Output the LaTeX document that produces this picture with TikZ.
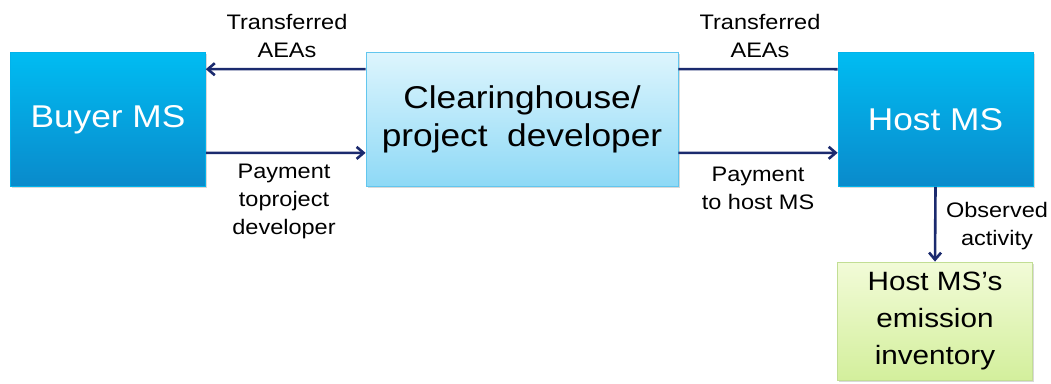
\documentclass[tikz,border=0pt]{standalone}
\usepackage{fontspec}
\setmainfont[FakeStretch=1.12]{Liberation Sans}
\usepackage{tikz}
\usetikzlibrary{positioning,shadows,arrows.meta}

\definecolor{navy}{HTML}{1B2A6E}
\definecolor{mstop}{HTML}{00BCF2}
\definecolor{msbot}{HTML}{0A8ACB}
\definecolor{hubtop}{HTML}{DDF5FD}
\definecolor{hubbot}{HTML}{8ED9F6}
\definecolor{hubline}{HTML}{62C6EE}
\definecolor{invtop}{HTML}{F2FBD8}
\definecolor{invbot}{HTML}{D3EF9C}
\definecolor{invline}{HTML}{C2DE94}

\begin{document}
\begin{tikzpicture}[x=1pt, y=-1pt,
  msbox/.style={rectangle, top color=mstop, bottom color=msbot, draw=mstop!80!msbot, line width=0.6pt,
    minimum width=195pt, minimum height=134pt, text=white, font=\fontsize{31.5}{38}\selectfont,
    drop shadow={shadow xshift=1.5pt, shadow yshift=-1.5pt, opacity=0.3}},
  hubbox/.style={rectangle, top color=hubtop, bottom color=hubbot, draw=hubline, line width=0.8pt,
    minimum width=312pt, minimum height=134pt, align=center, font=\fontsize{31.5}{38}\selectfont,
    drop shadow={shadow xshift=1.5pt, shadow yshift=-1.5pt, opacity=0.3}},
  invbox/.style={rectangle, top color=invtop, bottom color=invbot, draw=invline, line width=0.8pt,
    minimum width=195pt, minimum height=118pt, align=center, font=\fontsize{26.5}{37}\selectfont,
    drop shadow={shadow xshift=1.5pt, shadow yshift=-1.5pt, opacity=0.3}},
  flow/.style={draw=navy, line width=2.6pt},
  lbl/.style={align=center, font=\fontsize{21}{28}\selectfont, inner sep=0pt}
]
\useasboundingbox (0,0) rectangle (1051,383);

\node [msbox] (buyer) at (108,119.5) {Buyer MS};
\node [hubbox] (hub) at (522,119.5) {Clearinghouse/\\project\ \ developer};
\node [msbox] (host) at (935.5,119.5) {Host MS};
\node [invbox] (inv) at (935,321) {Host MS's\\emission\\inventory};

% transfers and payments
\draw [flow, -{Straight Barb[length=7pt,width=12pt]}] ([yshift=-17pt]hub.north west) -- ([yshift=-17pt]buyer.north east);
\draw [flow] ([yshift=-17pt]host.north west) -- ([yshift=-17pt]hub.north east);
\draw [flow, -{Straight Barb[length=7pt,width=12pt]}] ([yshift=34pt]buyer.south east) -- ([yshift=34pt]hub.south west);
\draw [flow, -{Straight Barb[length=7pt,width=12pt]}] ([yshift=34pt]hub.south east) -- ([yshift=34pt]host.south west);
\draw [flow, -{Straight Barb[length=7pt,width=12pt]}] (host.south) -- (inv.north);

\node [lbl] (lblaeaa) at (287,36) {Transferred\\AEAs};
\node [lbl] (lblaeab) at (760,36) {Transferred\\AEAs};
\node [lbl] (lblpaya) at (284,201) {Payment\\toproject\\developer};
\node [lbl] (lblpayb) at (758,188) {Payment\\to host MS};
\node [lbl] (lblobs) at (997,226) {Observed\\activity};
\end{tikzpicture}
\end{document}
